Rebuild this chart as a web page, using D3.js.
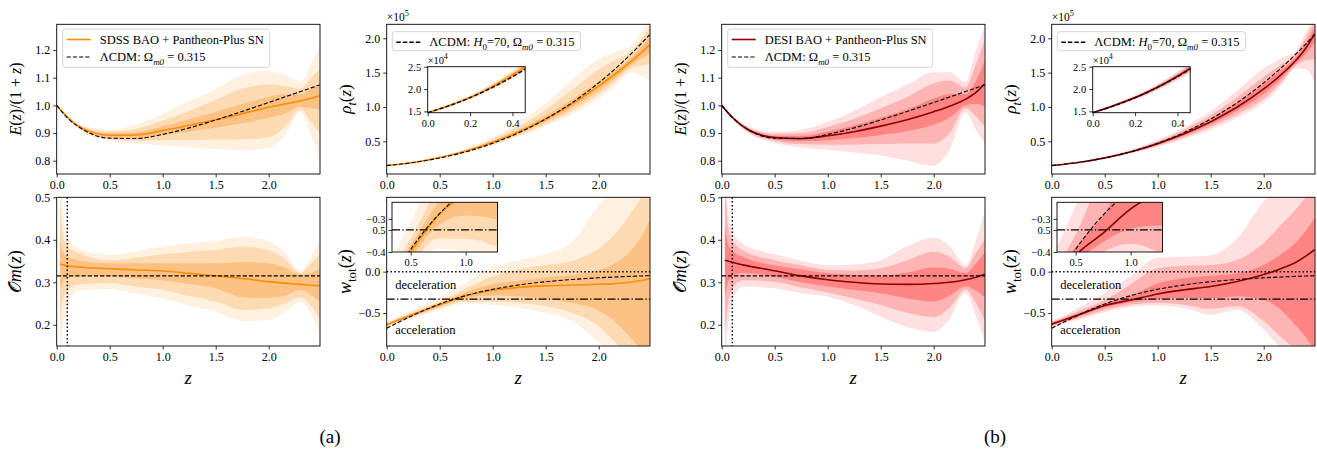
<!DOCTYPE html>
<html>
<head>
<meta charset="utf-8">
<script src="https://cdn.jsdelivr.net/npm/d3@7"></script>
<style>
body { margin: 0; background: #fff; }
svg text { font-family: "Liberation Serif", "Times New Roman", "DejaVu Serif", serif; fill: #000; }
</style>
</head>
<body>
<svg id="fig" width="1317" height="449"></svg>
<script>
// redshift grids
var zGrid = [0, 0.1, 0.25, 0.5, 0.75, 1.0, 1.25, 1.5, 1.75, 2.0, 2.15, 2.3, 2.4, 2.48];
var zOm = [0.03, 0.06, 0.1, 0.2, 0.5, 0.75, 1.0, 1.25, 1.5, 1.75, 2.0, 2.15, 2.3, 2.4, 2.48];

// LCDM reference curves
var lcdmE = [1.0, 0.9553, 0.9122, 0.8815, 0.8803, 0.8951, 0.9187, 0.9472, 0.9782, 1.0105, 1.0302, 1.0499, 1.0632, 1.0737];
var lcdmRho = [0.147, 0.1623, 0.1911, 0.2570, 0.3489, 0.4711, 0.6281, 0.8242, 1.0637, 1.3509, 1.548, 1.7647, 1.9207, 2.0521];
var lcdmW = [-0.685, -0.6203, -0.5268, -0.3919, -0.2886, -0.2137, -0.1603, -0.1222, -0.0947, -0.0745, -0.0650, -0.0571, -0.0524, -0.0491];
var lcdmOm = 0.315;
var zTransition = 0.1;
var wAccel = -1 / 3;

// (a) SDSS BAO + Pantheon-Plus SN
var sE_med = [1.0, .958, .915, .892, .893, .909, .928, .948, .970, .993, 1.005, 1.017, 1.026, 1.035];
var sE_lo1 = [1.0, .956, .911, .885, .883, .893, .906, .919, .935, .955, .970, .995, .990, .985];
var sE_hi1 = [1.0, .960, .919, .899, .903, .925, .950, .977, 1.005, 1.030, 1.040, 1.040, 1.060, 1.080];
var sE_lo2 = [1.0, .954, .907, .878, .872, .875, .875, .876, .877, .885, .920, .985, .940, .900];
var sE_hi2 = [1.0, .962, .923, .906, .915, .945, .980, 1.020, 1.060, 1.075, 1.070, 1.060, 1.100, 1.130];
var sE_lo3 = [1.0, .952, .903, .871, .862, .855, .848, .841, .838, .845, .890, .975, .890, .815];
var sE_hi3 = [1.0, .964, .927, .913, .930, .970, 1.015, 1.058, 1.110, 1.125, 1.110, 1.085, 1.150, 1.210];

var sR_med = [.147, .163, .192, .263, .359, .486, .641, .826, 1.046, 1.305, 1.473, 1.656, 1.789, 1.907];
var sR_lo1 = [.147, .162, .190, .258, .350, .470, .615, .785, .990, 1.240, 1.410, 1.600, 1.700, 1.780];
var sR_hi1 = [.147, .164, .194, .268, .370, .505, .675, .875, 1.110, 1.370, 1.530, 1.710, 1.870, 2.030];
var sR_lo2 = [.147, .161, .188, .254, .342, .455, .590, .750, .940, 1.180, 1.360, 1.560, 1.600, 1.620];
var sR_hi2 = [.147, .165, .196, .274, .382, .530, .720, .960, 1.250, 1.550, 1.680, 1.800, 1.980, 2.160];
var sR_lo3 = [.147, .160, .186, .250, .335, .440, .570, .715, .890, 1.120, 1.300, 1.500, 1.460, 1.400];
var sR_hi3 = [.147, .166, .198, .280, .395, .560, .780, 1.050, 1.400, 1.700, 1.800, 1.880, 2.100, 2.300];

var sOm_med = [.343, .341, .339, .336, .332, .329, .3265, .321, .315, .309, .3015, .298, .295, .293, .292];
var sOm_lo1 = [.28, .30, .31, .315, .313, .309, .305, .296, .286, .265, .263, .268, .282, .27, .255];
var sOm_hi1 = [.40, .37, .36, .352, .345, .345, .3445, .345, .345, .348, .345, .335, .318, .322, .33];
var sOm_lo2 = [.20, .26, .28, .295, .2975, .29, .282, .268, .2545, .235, .238, .25, .265, .245, .2155];
var sOm_hi2 = [.50, .41, .385, .37, .352, .358, .366, .372, .376, .384, .376, .355, .322, .345, .364];
var sOm_lo3 = [.10, .20, .24, .28, .284, .273, .2625, .245, .231, .209, .211, .23, .255, .225, .18];
var sOm_hi3 = [.60, .46, .41, .38, .364, .373, .384, .392, .397, .407, .397, .37, .327, .36, .40];

var sW_med = [-.645, -.59, -.52, -.40, -.29, -.225, -.19, -.172, -.162, -.153, -.145, -.128, -.108, -.085];
var sW_lo1 = [-.655, -.60, -.535, -.42, -.32, -.29, -.30, -.33, -.38, -.47, -.60, -.80, -.95, -1.1];
var sW_hi1 = [-.635, -.578, -.505, -.38, -.25, -.15, -.11, -.07, -.04, .02, .10, .25, .42, .62];
var sW_lo2 = [-.665, -.613, -.55, -.44, -.36, -.36, -.38, -.42, -.50, -.66, -.85, -1.0, -1.1, -1.2];
var sW_hi2 = [-.625, -.565, -.485, -.36, -.20, -.06, .03, .08, .13, .28, .45, .70, .90, 1.1];
var sW_lo3 = [-.675, -.625, -.565, -.46, -.39, -.40, -.44, -.50, -.60, -.85, -1.0, -1.1, -1.2, -1.3];
var sW_hi3 = [-.615, -.55, -.465, -.31, -.13, .06, .14, .21, .36, .80, 1.0, 1.2, 1.3, 1.4];

// (b) DESI BAO + Pantheon-Plus SN
var dE_med = [1.0, .957, .912, .884, .880, .890, .905, .925, .948, .977, .997, 1.022, 1.047, 1.077];
var dE_lo1 = [1.0, .955, .908, .878, .870, .874, .882, .893, .907, .930, .955, 1.000, 1.005, .995];
var dE_hi1 = [1.0, .959, .916, .890, .890, .905, .927, .955, .985, 1.025, 1.040, 1.040, 1.090, 1.160];
var dE_lo2 = [1.0, .953, .904, .871, .860, .858, .858, .860, .862, .862, .900, .990, .960, .923];
var dE_hi2 = [1.0, .961, .920, .897, .900, .922, .952, .990, 1.030, 1.080, 1.090, 1.065, 1.150, 1.235];
var dE_lo3 = [1.0, .951, .900, .864, .848, .840, .830, .820, .800, .782, .840, .975, .910, .863];
var dE_hi3 = [1.0, .963, .924, .904, .912, .940, .980, 1.030, 1.075, 1.120, 1.120, 1.085, 1.200, 1.284];

var dR_med = [.147, .163, .191, .2585, .3486, .466, .610, .786, .999, 1.263, 1.450, 1.672, 1.863, 2.065];
var dR_lo1 = [.147, .162, .189, .254, .341, .452, .585, .748, .945, 1.190, 1.390, 1.630, 1.780, 1.940];
var dR_hi1 = [.147, .164, .193, .263, .357, .482, .637, .830, 1.060, 1.340, 1.520, 1.720, 1.940, 2.160];
var dR_lo2 = [.147, .161, .187, .250, .333, .437, .560, .710, .890, 1.120, 1.330, 1.600, 1.680, 1.700];
var dR_hi2 = [.147, .165, .195, .268, .367, .500, .670, .880, 1.140, 1.440, 1.600, 1.770, 2.020, 2.250];
var dR_lo3 = [.147, .160, .185, .246, .325, .422, .535, .670, .840, 1.060, 1.280, 1.560, 1.550, 1.350];
var dR_hi3 = [.147, .166, .197, .273, .378, .520, .705, .940, 1.240, 1.560, 1.700, 1.810, 2.100, 2.300];

var dOm_med = [.352, .350, .347, .341, .327, .315, .306, .300, .296, .295, .297, .300, .306, .312, .319];
var dOm_lo1 = [.27, .30, .315, .322, .313, .300, .290, .282, .274, .262, .255, .268, .29, .28, .265];
var dOm_hi1 = [.43, .39, .375, .36, .340, .330, .321, .317, .3155, .323, .335, .332, .322, .345, .37];
var dOm_lo2 = [.18, .25, .285, .305, .3015, .288, .276, .262, .2467, .228, .218, .24, .283, .25, .21];
var dOm_hi2 = [.53, .43, .40, .375, .352, .340, .329, .328, .333, .352, .372, .36, .333, .37, .40];
var dOm_lo3 = [.10, .20, .255, .29, .286, .275, .266, .247, .219, .195, .183, .215, .275, .22, .16];
var dOm_hi3 = [.60, .47, .42, .39, .3657, .35, .340, .342, .352, .385, .405, .385, .34, .40, .466];

var dW_med = [-.635, -.59, -.525, -.41, -.343, -.27, -.22, -.18, -.12, -.035, .03, .11, .19, .265];
var dW_lo1 = [-.65, -.605, -.545, -.435, -.37, -.33, -.32, -.32, -.30, -.34, -.45, -.65, -.80, -.95];
var dW_hi1 = [-.62, -.575, -.505, -.385, -.29, -.14, -.08, -.05, -.02, .08, .20, .35, .50, .65];
var dW_lo2 = [-.665, -.62, -.565, -.465, -.40, -.375, -.40, -.45, -.42, -.60, -.78, -.95, -1.1, -1.2];
var dW_hi2 = [-.605, -.56, -.48, -.347, -.15, .04, .07, .08, .14, .35, .55, .75, .90, 1.0];
var dW_lo3 = [-.68, -.635, -.585, -.49, -.425, -.41, -.44, -.52, -.46, -.70, -.90, -1.0, -1.1, -1.2];
var dW_hi3 = [-.59, -.54, -.44, -.26, -.05, .17, .18, .20, .40, .85, 1.0, 1.1, 1.2, 1.3];

// ticks
var zTicks = [0, 0.5, 1.0, 1.5, 2.0];
var eTicks = [0.8, 0.9, 1.0, 1.1, 1.2];
var rhoTicks = [0.5, 1.0, 1.5, 2.0];
var omTicks = [0.2, 0.3, 0.4, 0.5];
var wTicks = [-0.5, 0.0];
var rhoInsetX = [0, 0.2, 0.4];
var rhoInsetY = [1.5, 2.0, 2.5];
var wInsetX = [0.5, 1.0];
var wInsetY = [-0.3, -1 / 3, -0.4];
var wInsetLabels = ["\u22120.3", "0.5", "\u22120.4"];

var orangeFills = ["#fff0e0", "#fedab2", "#fdc184"];
var redFills = ["#ffdfdf", "#ffb4b4", "#ff8484"];
var orangeLine = "#ff8c00";
var redLine = "#8b0000";

var SERIF = "'Liberation Serif', 'Times New Roman', 'DejaVu Serif', serif";
var svg = d3.select("#fig");
var nClip = 0;
var f1 = d3.format(".1f");

function rich(sel, parts, size) {
    var shift = 0;
    parts.forEach(function(p) {
        var t = sel.append("tspan").text(p.t);
        var want = p.sub ? size * 0.3 : (p.sup ? -size * 0.4 : 0);
        if (want !== shift) { t.attr("dy", want - shift); shift = want; }
        if (p.it) t.attr("font-style", "italic");
        if (p.sub || p.sup) t.attr("font-size", size * 0.72);
        if (p.font) t.style("font-family", p.font);
    });
}

function txt(parent) {
    return parent.append("text").style("font-family", SERIF);
}

function panel(o) {
    var x = d3.scaleLinear().domain(o.xd).range([o.l, o.r]);
    var y = d3.scaleLinear().domain(o.yd).range([o.b, o.t]);
    var cid = "clip" + (nClip++);
    svg.append("clipPath").attr("id", cid).append("rect")
        .attr("x", o.l).attr("y", o.t).attr("width", o.r - o.l).attr("height", o.b - o.t);
    var g = svg.append("g");
    g.append("rect").attr("x", o.l).attr("y", o.t).attr("width", o.r - o.l).attr("height", o.b - o.t)
        .attr("fill", "#fff");
    var body = g.append("g").attr("clip-path", "url(#" + cid + ")");
    var idx = d3.range(o.z.length);

    o.bands.forEach(function(b, k) {
        var area = d3.area().curve(d3.curveMonotoneX)
            .x(function(i) { return x(o.z[i]); })
            .y0(function(i) { return y(b[0][i]); })
            .y1(function(i) { return y(b[1][i]); });
        body.append("path").attr("d", area(idx)).attr("fill", o.fills[k]);
    });

    var line = function(arr) {
        return d3.line().curve(d3.curveMonotoneX)
            .x(function(i) { return x(o.z[i]); })
            .y(function(i) { return y(arr[i]); })(idx);
    };
    body.append("path").attr("d", line(o.med)).attr("fill", "none")
        .attr("stroke", o.color).attr("stroke-width", o.lw || 1.6);

    if (o.lcdm) {
        body.append("path").attr("fill", "none").attr("stroke", "#000")
            .attr("stroke-width", o.dlw || 1.1).attr("stroke-dasharray", "4.2,2")
            .attr("d", line(o.lcdm));
    }
    (o.hlines || []).forEach(function(h) {
        body.append("line").attr("x1", o.l).attr("x2", o.r)
            .attr("y1", y(h.v)).attr("y2", y(h.v))
            .attr("stroke", "#000").attr("stroke-width", h.w).attr("stroke-dasharray", h.dash);
    });
    (o.vlines || []).forEach(function(h) {
        body.append("line").attr("y1", o.t).attr("y2", o.b)
            .attr("x1", x(h.v)).attr("x2", x(h.v))
            .attr("stroke", "#000").attr("stroke-width", h.w).attr("stroke-dasharray", h.dash);
    });

    g.append("rect").attr("x", o.l).attr("y", o.t).attr("width", o.r - o.l).attr("height", o.b - o.t)
        .attr("fill", "none").attr("stroke", "#000").attr("stroke-width", 0.9);

    var fs = o.fs || 12;
    var ax = g.append("g").attr("transform", "translate(0," + o.b + ")")
        .call(d3.axisBottom(x).tickValues(o.xt).tickSize(3.5).tickPadding(3)
            .tickFormat(o.xf || f1));
    var ay = g.append("g").attr("transform", "translate(" + o.l + ",0)")
        .call(d3.axisLeft(y).tickValues(o.yt).tickSize(3.5).tickPadding(3)
            .tickFormat(o.yf || f1));
    [ax, ay].forEach(function(a) {
        a.select(".domain").remove();
        a.attr("font-family", SERIF).attr("font-size", fs);
        a.selectAll("line").attr("stroke", "#000").attr("stroke-width", 0.8);
        a.selectAll("text").attr("fill", "#333").style("font-family", SERIF);
    });
    return { x: x, y: y, g: g };
}

function yLabel(cx, cy, parts, size) {
    var t = txt(svg).attr("text-anchor", "middle").attr("font-size", size)
        .attr("transform", "translate(" + cx + "," + cy + ") rotate(-90)");
    rich(t, parts, size);
}

function legend(lx, ly, h, items) {
    var g = svg.append("g");
    var box = g.append("rect").attr("x", lx).attr("y", ly).attr("height", h).attr("rx", 2.5)
        .attr("fill", "#fff").attr("fill-opacity", 0.85).attr("stroke", "#d0d0d0").attr("stroke-width", 0.9);
    var maxW = 0;
    items.forEach(function(it, k) {
        var yy = ly + 10.5 + k * 17.5;
        g.append("line").attr("x1", lx + 4).attr("x2", lx + 28).attr("y1", yy).attr("y2", yy)
            .attr("stroke", it.color).attr("stroke-width", it.lw)
            .attr("stroke-dasharray", it.dash || null);
        var t = txt(g).attr("x", lx + 37).attr("y", yy + 4).attr("font-size", 12.5);
        rich(t, it.parts, 12.5);
        maxW = Math.max(maxW, t.node().getComputedTextLength());
    });
    box.attr("width", 37 + maxW + 6);
}

var lcdmLegE = [{ t: "\u039BCDM: \u03A9" }, { t: "m0", sub: true, it: true }, { t: " = 0.315" }];
var lcdmLegRho = [{ t: "\u039BCDM: " }, { t: "H", it: true }, { t: "0", sub: true }, { t: "=70, \u03A9" },
    { t: "m0", sub: true, it: true }, { t: " = 0.315" }];

function drawGroup(c1, c2, S, fills, color, name) {
    var top = [24.3, 174], bot = [197.3, 346];
    var xd = [0, 2.484];

    // E(z)/(1+z)
    panel({ l: c1, r: c1 + 263.3, t: top[0], b: top[1], xd: xd, yd: [0.752, 1.293],
        z: zGrid, bands: [[S.E[5], S.E[6]], [S.E[3], S.E[4]], [S.E[1], S.E[2]]], fills: fills,
        med: S.E[0], color: color, lcdm: lcdmE, xt: zTicks, yt: eTicks });
    yLabel(c1 - 36, 99, [{ t: "E", it: true }, { t: "(" }, { t: "z", it: true }, { t: ")/(1 + " },
        { t: "z", it: true }, { t: ")" }], 16);
    legend(c1 + 6, 29, 38.3, [
        { color: color, lw: 1.6, parts: [{ t: name }] },
        { color: "#000", lw: 1.1, dash: "4.2,2", parts: lcdmLegE }
    ]);

    // rho_t(z)
    panel({ l: c2, r: c2 + 263.3, t: top[0], b: top[1], xd: xd, yd: [0.024, 2.204],
        z: zGrid, bands: [[S.R[5], S.R[6]], [S.R[3], S.R[4]], [S.R[1], S.R[2]]], fills: fills,
        med: S.R[0], color: color, lcdm: lcdmRho, xt: zTicks, yt: rhoTicks });
    yLabel(c2 - 36, 99, [{ t: "\u03C1", it: true }, { t: "t", sub: true, it: true }, { t: "(" },
        { t: "z", it: true }, { t: ")" }], 17);
    var t5 = txt(svg).attr("x", c2).attr("y", 21).attr("font-size", 11.5).attr("fill", "#333");
    rich(t5, [{ t: "\u00D710" }, { t: "5", sup: true }], 11.5);
    legend(c2 + 5.6, 31.7, 19, [
        { color: "#000", lw: 1.4, dash: "4.5,2", parts: lcdmLegRho }
    ]);
    // inset rho, in units of 1e4
    var rho4 = function(a) { return a.map(function(v) { return v * 10; }); };
    panel({ l: c2 + 41, r: c2 + 138.5, t: 66.7, b: 112.7, xd: [0, 0.46], yd: [1.47, 2.5],
        z: zGrid, bands: [[rho4(S.R[5]), rho4(S.R[6])], [rho4(S.R[3]), rho4(S.R[4])], [rho4(S.R[1]), rho4(S.R[2])]],
        fills: fills, med: rho4(S.R[0]), color: color, lcdm: rho4(lcdmRho), dlw: 1.4,
        xt: rhoInsetX, yt: rhoInsetY, fs: 10.5 });
    var t4 = txt(svg).attr("x", c2 + 41).attr("y", 63.5).attr("font-size", 10.5).attr("fill", "#333");
    rich(t4, [{ t: "\u00D710" }, { t: "4", sup: true }], 10.5);

    // Om(z)
    panel({ l: c1, r: c1 + 263.3, t: bot[0], b: bot[1], xd: xd, yd: [0.15, 0.5],
        z: zOm, bands: [[S.O[5], S.O[6]], [S.O[3], S.O[4]], [S.O[1], S.O[2]]], fills: fills,
        med: S.O[0], color: color, xt: zTicks, yt: omTicks,
        hlines: [{ v: lcdmOm, w: 1.1, dash: "4.2,2" }],
        vlines: [{ v: zTransition, w: 1.5, dash: "1.5,2.3" }] });
    yLabel(c1 - 36, 271.7, [{ t: "\uD835\uDCAA", font: "'DejaVu Sans', serif" }, { t: "m", it: true },
        { t: "(" }, { t: "z", it: true }, { t: ")" }], 18);

    // w_tot(z)
    panel({ l: c2, r: c2 + 263.3, t: bot[0], b: bot[1], xd: xd, yd: [-0.9, 0.9],
        z: zGrid, bands: [[S.W[5], S.W[6]], [S.W[3], S.W[4]], [S.W[1], S.W[2]]], fills: fills,
        med: S.W[0], color: color, lcdm: lcdmW, xt: zTicks, yt: wTicks,
        hlines: [{ v: 0, w: 1.5, dash: "1.5,2.3" }, { v: wAccel, w: 1.2, dash: "8,2.2,1.4,2.2" }] });
    yLabel(c2 - 36, 271.7, [{ t: "w", it: true }, { t: "tot", sub: true }, { t: "(" },
        { t: "z", it: true }, { t: ")" }], 18);
    txt(svg).attr("x", c2 + 8.5).attr("y", 289).attr("font-size", 12.5).text("deceleration");
    txt(svg).attr("x", c2 + 8.5).attr("y", 334).attr("font-size", 12.5).text("acceleration");
    // inset w_tot
    panel({ l: c2 + 5.3, r: c2 + 110.8, t: 202.3, b: 252, xd: [0.33, 1.29], yd: [-0.4, -0.25],
        z: zGrid, bands: [[S.W[5], S.W[6]], [S.W[3], S.W[4]], [S.W[1], S.W[2]]], fills: fills,
        med: S.W[0], color: color, lcdm: lcdmW, xt: wInsetX, yt: wInsetY, fs: 10.5,
        yf: function(d, i) { return wInsetLabels[i]; },
        hlines: [{ v: wAccel, w: 1.2, dash: "8,2.2,1.4,2.2" }] });

    // z labels
    [c1, c2].forEach(function(c) {
        txt(svg).attr("x", c + 131.6).attr("y", 384).attr("text-anchor", "middle")
            .attr("font-size", 19).attr("font-style", "italic").text("z");
    });
}

drawGroup(56.7, 386.7,
    { E: [sE_med, sE_lo1, sE_hi1, sE_lo2, sE_hi2, sE_lo3, sE_hi3],
      R: [sR_med, sR_lo1, sR_hi1, sR_lo2, sR_hi2, sR_lo3, sR_hi3],
      O: [sOm_med, sOm_lo1, sOm_hi1, sOm_lo2, sOm_hi2, sOm_lo3, sOm_hi3],
      W: [sW_med, sW_lo1, sW_hi1, sW_lo2, sW_hi2, sW_lo3, sW_hi3] },
    orangeFills, orangeLine, "SDSS BAO + Pantheon-Plus SN");

drawGroup(721.7, 1051.7,
    { E: [dE_med, dE_lo1, dE_hi1, dE_lo2, dE_hi2, dE_lo3, dE_hi3],
      R: [dR_med, dR_lo1, dR_hi1, dR_lo2, dR_hi2, dR_lo3, dR_hi3],
      O: [dOm_med, dOm_lo1, dOm_hi1, dOm_lo2, dOm_hi2, dOm_lo3, dOm_hi3],
      W: [dW_med, dW_lo1, dW_hi1, dW_lo2, dW_hi2, dW_lo3, dW_hi3] },
    redFills, redLine, "DESI BAO + Pantheon-Plus SN");

txt(svg).attr("x", 330).attr("y", 443).attr("text-anchor", "middle").attr("font-size", 19).text("(a)");
txt(svg).attr("x", 995).attr("y", 443).attr("text-anchor", "middle").attr("font-size", 19).text("(b)");
</script>
</body>
</html>
